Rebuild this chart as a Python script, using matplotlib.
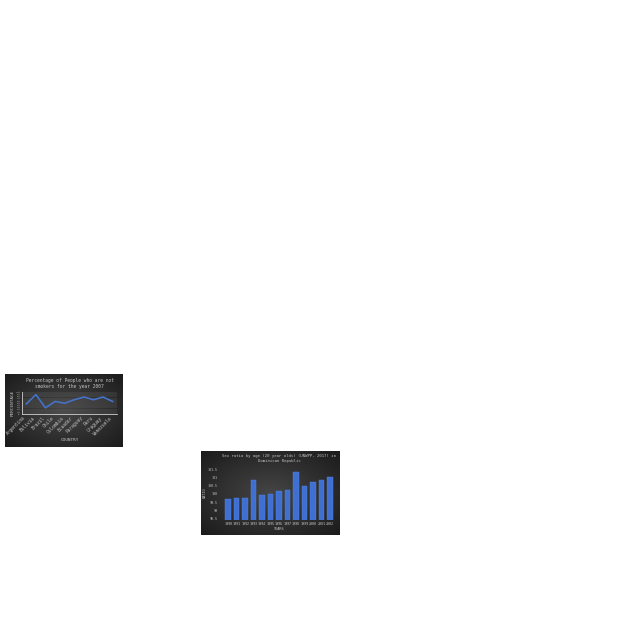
import matplotlib.pyplot as plt
import numpy as np
from matplotlib.colors import LinearSegmentedColormap

# chart 1: non-smokers by country, 2007
countries = ["Argentina", "Bolivia", "Brazil", "Chile", "Colombia",
             "Ecuador", "Paraguay", "Peru", "Uruguay", "Venezuela"]
non_smokers = [46, 88, 28, 57, 49, 65, 77, 65, 77, 57]

# chart 2: sex ratio of 20 year olds, Dominican Republic
years = ["1990", "1991", "1992", "1993", "1994", "1995", "1996",
         "1997", "1998", "1999", "2000", "2001", "2002"]
sex_ratio = [99.71, 99.76, 99.76, 100.82, 99.90, 100.0, 100.15,
             100.23, 101.34, 100.48, 100.72, 100.87, 101.05]
ratio_ticks = [98.5, 99, 99.5, 100, 100.5, 101, 101.5]

fig = plt.figure(figsize=(6.4, 6.4), dpi=100)
fig.patch.set_facecolor("white")

bg_cmap = LinearSegmentedColormap.from_list("bg", ["#1a1a1a", "#454545"])


def px(x0, y0, x1, y1):
    # pixel box (top-left origin) -> figure fraction rect
    return [x0 / 640, 1 - y1 / 640, (x1 - x0) / 640, (y1 - y0) / 640]


def dark_panel(rect):
    bg = fig.add_axes(rect)
    yy, xx = np.mgrid[-1:1:80j, -1:1:120j]
    r = np.sqrt(xx ** 2 + yy ** 2)
    bg.imshow(-r, cmap=bg_cmap, vmin=-1.45, vmax=0, aspect="auto",
              extent=[0, 1, 0, 1])
    bg.set_axis_off()
    return bg


txt = dict(color="#c4c4c4", family="DejaVu Sans Mono")

# ---- panel 1 ----
dark_panel(px(5, 374, 123, 447))
ax1 = fig.add_axes(px(22, 392, 117, 414))
ax1.set_facecolor("none")
ax1.plot(countries, non_smokers, color="#4472c4", linewidth=1.2)
ax1.set_ylim(0, 100)
ax1.set_yticks(range(0, 101, 10))
ax1.set_yticklabels([f"{v}%" for v in range(0, 101, 10)], fontsize=1.5, **txt)
ax1.grid(axis="y", color="#6e6e6e", linewidth=0.3)
ax1.set_xticks(range(len(countries)))
ax1.set_xticklabels(countries, rotation=45, ha="right", fontsize=3.3, **txt)
ax1.tick_params(length=0, pad=1)
for s in ["top", "right"]:
    ax1.spines[s].set_visible(False)
ax1.spines["left"].set_color("#d0d0d0")
ax1.spines["left"].set_linewidth(0.6)
ax1.spines["bottom"].set_color("#d0d0d0")
ax1.spines["bottom"].set_linewidth(0.6)
ax1.set_ylabel("PERCENTAGE", fontsize=3.2, labelpad=1, **txt)
ax1.set_xlabel("COUNTRY", fontsize=3.2, labelpad=1, **txt)
ax1.set_title("Percentage of People who are not\nsmokers for the year 2007",
              fontsize=3.3, pad=3, linespacing=1.3, **txt)

# ---- panel 2 ----
dark_panel(px(201, 451, 340, 535))
ax2 = fig.add_axes(px(220, 466, 338, 520))
ax2.set_facecolor("none")
ax2.bar(years, sex_ratio, width=0.65, color="#3f6fd1", edgecolor="#5585e0",
        linewidth=0.3)
ax2.set_ylim(98.4, 101.7)
ax2.set_yticks(ratio_ticks)
ax2.set_yticklabels([f"{v:g}" for v in ratio_ticks], fontsize=2.4, **txt)
ax2.set_xticks(range(len(years)))
ax2.set_xticklabels(years, fontsize=2.4, **txt)
ax2.tick_params(length=0, pad=1.5)
for s in ax2.spines.values():
    s.set_visible(False)
ax2.set_ylabel("RATIO", fontsize=2.6, labelpad=1, **txt)
ax2.set_xlabel("YEARS", fontsize=2.6, labelpad=1, **txt)
ax2.set_title("Sex ratio by age (20 year olds) (UNWPP, 2017) in\n"
              "Dominican Republic", fontsize=2.8, pad=3, linespacing=1.3,
              **txt)

fig.savefig("out.png", dpi=100, facecolor="white")
